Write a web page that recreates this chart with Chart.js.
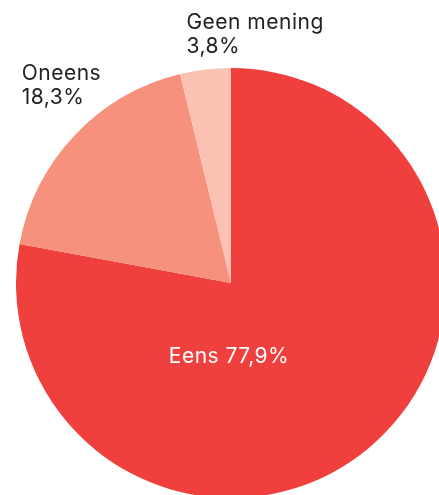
<!DOCTYPE html>
<html>
<head>
<meta charset="utf-8">
<script src="https://cdn.jsdelivr.net/npm/chart.js@4/dist/chart.umd.min.js"></script>
<style>
  html, body { margin: 0; padding: 0; background: #fff; overflow: hidden; width: 439px; height: 495px; }
  #wrap { position: relative; width: 462px; height: 566px; }
</style>
</head>
<body>
<div id="wrap"><canvas id="pie"></canvas></div>
<script>
  // antwoorden en aandelen (%)
  const categories = ["Eens", "Oneens", "Geen mening"];
  const shares = [77.9, 18.3, 3.8];
  const colors = ["#ef403d", "#f5917c", "#fbc2b3"];

  const fmt = (v) => v.toFixed(1).replace(".", ",") + "%";
  const FONT = "Inter, 'Open Sans', sans-serif";

  // labels: de grote schijf wit op één regel onder het midden, de andere boven de rand
  const sliceLabels = {
    id: "sliceLabels",
    afterDatasetsDraw(chart, args, opts) {
      const { ctx } = chart;
      const meta = chart.getDatasetMeta(0);
      ctx.save();
      ctx.font = `400 ${opts.size}px ${FONT}`;
      ctx.letterSpacing = "0.5px";
      ctx.textBaseline = "alphabetic";
      meta.data.forEach((arc, i) => {
        const { x, y, startAngle, endAngle, outerRadius } = arc.getProps(
          ["x", "y", "startAngle", "endAngle", "outerRadius"], true);
        const mid = (startAngle + endAngle) / 2;
        const text = categories[i];
        const val = fmt(shares[i]);
        if (i === 0) {
          ctx.fillStyle = "#ffffff";
          ctx.textAlign = "center";
          ctx.fillText(`${text} ${val}`, x - 2, y + outerRadius * 0.37);
        } else {
          const off = opts.offsets[i];
          const ox = x + Math.cos(mid) * outerRadius + off[0];
          const oy = y + Math.sin(mid) * outerRadius + off[1];
          ctx.fillStyle = "#222222";
          ctx.textAlign = "left";
          ctx.fillText(text, ox, oy - opts.lineHeight);
          ctx.fillText(val, ox, oy);
        }
      });
      ctx.restore();
    },
  };

  new Chart(document.getElementById("pie"), {
    type: "pie",
    data: {
      labels: categories,
      datasets: [{
        data: shares,
        backgroundColor: colors,
        borderWidth: 0,
      }],
    },
    options: {
      responsive: true,
      maintainAspectRatio: false,
      animation: false,
      layout: { padding: { left: 16, right: 16, top: 68, bottom: 68 } },
      plugins: {
        legend: { display: false },
        tooltip: { enabled: false },
        sliceLabels: {
          size: 21,
          lineHeight: 24,
          offsets: [null, [-53, -31], [-19, -17]],
        },
      },
    },
    plugins: [sliceLabels],
  });
</script>
</body>
</html>
